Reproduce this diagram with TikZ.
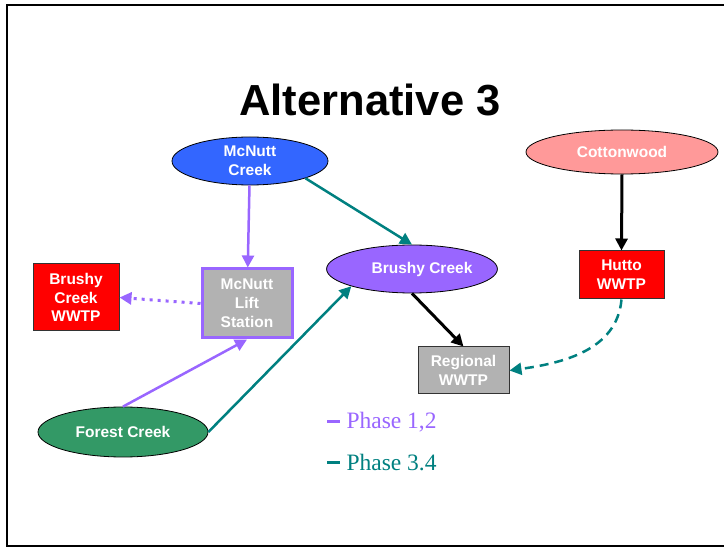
\documentclass[tikz,border=0pt]{standalone}
\usepackage{fontspec}
\setmainfont{Liberation Serif}
\setsansfont{Liberation Sans}
\usetikzlibrary{shapes,arrows.meta,positioning,calc}
\definecolor{phaseone}{HTML}{9966FF}
\definecolor{phasetwo}{HTML}{008080}
\definecolor{mcnuttblue}{HTML}{3366FF}
\definecolor{cottonpink}{HTML}{FF9999}
\definecolor{forestgreen}{HTML}{339966}
\definecolor{plantred}{HTML}{FF0000}
\definecolor{plantgray}{HTML}{B2B2B2}

\begin{document}
\begin{tikzpicture}[
    x=1pt, y=-1pt,
    every node/.style={font=\sffamily\bfseries\fontsize{15.5}{18.8}\selectfont, text=white, align=center},
    creek/.style={ellipse, draw, line width=0.8pt, inner sep=0pt},
    plant/.style={rectangle, draw=black!80, line width=1pt, inner sep=0pt},
    line/.style={draw, line width=2.5pt, -{Triangle[length=12pt,width=12pt]}},
    legend/.style={anchor=west, font=\rmfamily\fontsize{23.5}{26}\selectfont}
]

\useasboundingbox (0,0) rectangle (724,548);
\draw [line width=2.5pt] (740,5) -- (7,5) -- (7,546) -- (740,546);

% Title
\node [text=black, font=\sffamily\bfseries\fontsize{43.5}{50}\selectfont] (title) at (370,100) {Alternative 3};

% Nodes
\node [creek, fill=mcnuttblue, minimum width=156pt, minimum height=48pt] (mcnutt) at (250,161) {McNutt\\Creek};
\node [creek, fill=cottonpink, minimum width=192pt, minimum height=44pt] (cotton) at (622,152) {Cottonwood};
\node [creek, fill=phaseone, minimum width=158pt, minimum height=48pt] (brushy) at (412,269) {\hspace*{20pt}Brushy Creek};
\node [creek, fill=forestgreen, minimum width=170pt, minimum height=50pt] (forest) at (123,432) {Forest Creek};
\node [plant, fill=plantred, minimum width=86pt, minimum height=67pt] (bcwwtp) at (76,297.5) {Brushy\\Creek\\WWTP};
\node [plant, fill=plantgray, draw=phaseone, line width=3pt, minimum width=90pt, minimum height=69pt] (lift) at (247,303.5) {McNutt\\Lift\\Station};
\node [plant, fill=plantred, minimum width=85pt, minimum height=48pt] (hutto) at (621.5,275) {Hutto\\WWTP};
\node [plant, fill=plantgray, minimum width=91pt, minimum height=47pt] (regional) at (463.5,370.5) {Regional\\WWTP};

% Connections - phase 1,2
\draw [line, phaseone] (mcnutt) -- (lift);
\draw [line, phaseone] (forest.north) -- (lift.south);
\draw [line, phaseone, line width=3pt, dash pattern=on 3pt off 5pt] (lift.west) -- (bcwwtp.east);

% Connections - phase 3.4
\draw [line, phasetwo] (mcnutt.south east) -- (brushy.north);
\draw [line, phasetwo] (forest.east) -- (brushy.south west);
\draw [line, phasetwo, dash pattern=on 9pt off 6pt] (hutto.south) to[out=-95, in=8] (regional.east);

% Connections - to plants
\draw [line, black, line width=3pt] (cotton.south) -- (hutto.north);
\draw [line, black, line width=3pt] (brushy.south) -- (regional.north);

% Legend
\node [legend, text=phaseone] (legone) at (343,422) {Phase 1,2};
\node [legend, text=phasetwo] (legtwo) at (343,463) {Phase 3.4};
\draw [phaseone, line width=3pt] ($(legone.west)+(-16,0)$) -- ++(13,0);
\draw [phasetwo, line width=3pt] ($(legtwo.west)+(-16,0)$) -- ++(13,0);

\end{tikzpicture}
\end{document}
